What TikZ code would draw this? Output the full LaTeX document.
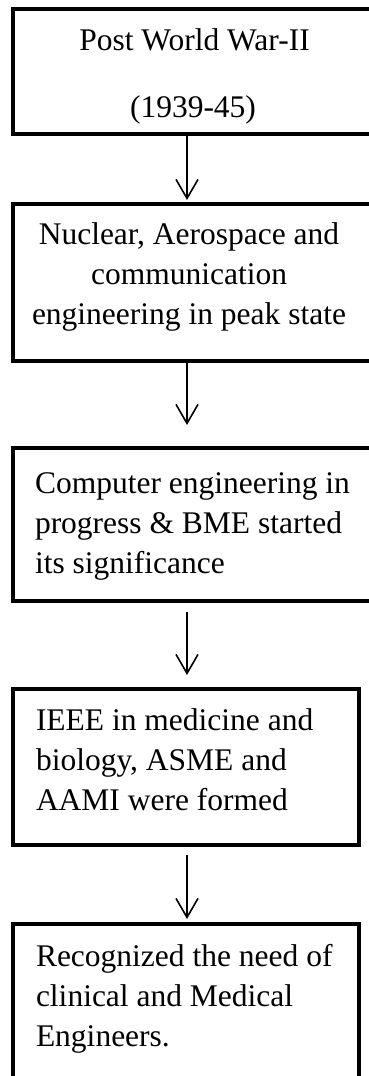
\documentclass[tikz,border=0pt]{standalone}
\usepackage{fontspec}
\setmainfont{Liberation Serif}
\usetikzlibrary{arrows.meta}
\begin{document}
\begin{tikzpicture}[x=1pt,y=1pt,
  box/.style={draw, line width=4pt, rectangle, inner sep=0pt, outer sep=0pt, anchor=north west},
  txt/.style={font=\fontsize{31.5}{40}\selectfont, inner sep=0pt, outer sep=0pt},
  arr/.style={line width=1.6pt, -{Straight Barb[length=19pt,width=22pt]}}]
\useasboundingbox (0,0) rectangle (369,-1076);
\clip (0,0) rectangle (369,-1076);
\coordinate (ax) at (187,0);
% boxes
\node[box, minimum width=390pt, minimum height=125.3pt] (b1) at (13.3,-8.7) {};
\node[box, minimum width=390pt, minimum height=156.5pt] (b2) at (12.7,-204) {};
\node[box, minimum width=390pt, minimum height=153.5pt] (b3) at (12.7,-447.5) {};
\node[box, minimum width=346pt, minimum height=155.5pt] (b4) at (13,-689) {};
\node[box, minimum width=346.5pt, minimum height=200pt] (b5) at (12.5,-924) {};
% texts (anchor base = baseline of the last line)
\node[txt, anchor=base] (t1a) at (194.5,-50) {Post World War-II};
\node[txt, anchor=base] (t1b) at (193,-117) {(1939-45)};
\node[txt, anchor=base, align=center] (t2) at (189,-324) {Nuclear, Aerospace and\\communication\\engineering in peak state};
\node[txt, anchor=base west, align=left] (t3) at (35,-573) {Computer engineering in\\progress \& BME started\\its significance};
\node[txt, anchor=base west, align=left] (t4) at (36,-810) {IEEE in medicine and\\biology, ASME and\\AAMI were formed};
\node[txt, anchor=base west, align=left] (t5) at (36,-1046) {Recognized the need of\\clinical and Medical\\Engineers.};
% arrows
\draw[arr, shorten >=4pt] (b1.south -| ax) -- (b2.north -| ax);
\draw[arr, shorten >=22.5pt] (b2.south -| ax) -- (b3.north -| ax);
\draw[arr, shorten <=11pt, shorten >=14pt] (b3.south -| ax) -- (b4.north -| ax);
\draw[arr, shorten <=10.5pt, shorten >=5pt] (b4.south -| ax) -- (b5.north -| ax);
\end{tikzpicture}
\end{document}
